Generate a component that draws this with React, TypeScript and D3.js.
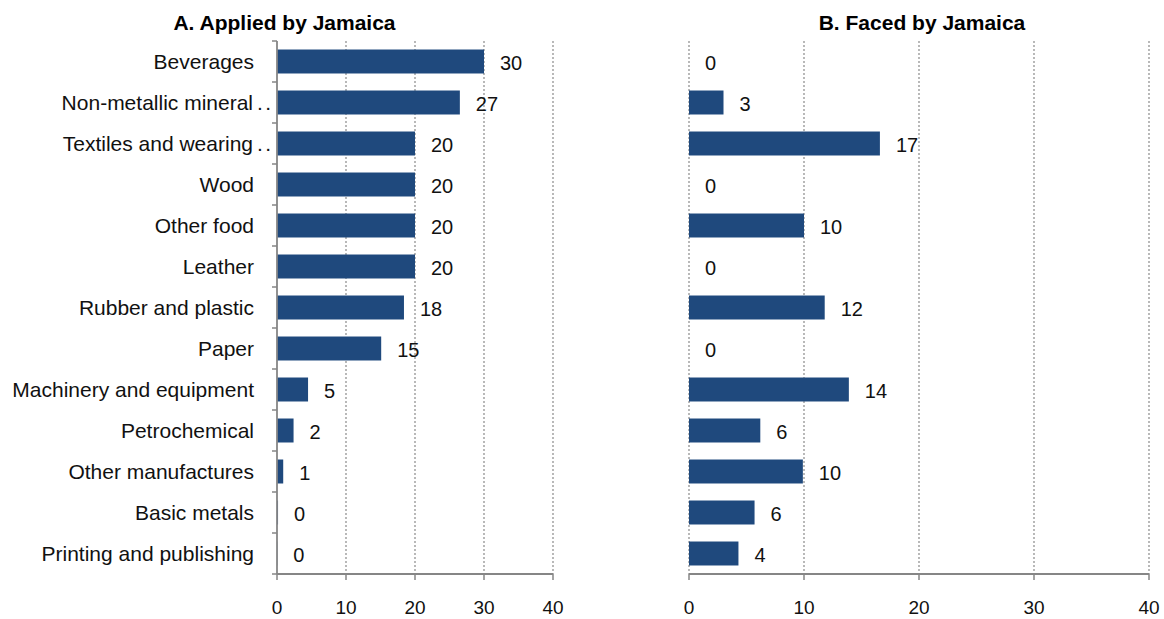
import React from "react";
import * as d3 from "d3";

const categories = [
  "Beverages",
  "Non-metallic mineral..",
  "Textiles and wearing..",
  "Wood",
  "Other food",
  "Leather",
  "Rubber and plastic",
  "Paper",
  "Machinery and equipment",
  "Petrochemical",
  "Other manufactures",
  "Basic metals",
  "Printing and publishing",
];

const appliedValues = [30.0, 26.5, 20.0, 20.0, 20.0, 20.0, 18.4, 15.1, 4.5, 2.4, 0.9, 0.15, 0.05];
const facedValues = [0, 3.0, 16.6, 0, 10.0, 0, 11.8, 0, 13.9, 6.2, 9.9, 5.7, 4.3];
const xTicks = [0, 10, 20, 30, 40];
const titleA = "A. Applied by Jamaica";
const titleB = "B. Faced by Jamaica";

const FONT = "'Liberation Sans', Arial, Helvetica, sans-serif";
const BAR = "#1f497d";
const AXIS = "#868686";
const GRID = "#8a8a8a";

export default function App() {
  const W = 1164;
  const H = 619;
  const top = 41;
  const bottom = 574;

  const y = d3
    .scaleBand<string>()
    .domain(categories)
    .range([top, bottom])
    .paddingInner(0.415)
    .paddingOuter(0.2075);

  const xL = d3.scaleLinear().domain([0, 40]).range([277, 553]);
  const xR = d3.scaleLinear().domain([0, 40]).range([689, 1149]);
  const step = y.step();

  const panel = (
    x: d3.ScaleLinear<number, number>,
    values: number[],
    solidYAxis: boolean,
    key: string
  ) => (
    <g key={key}>
      {xTicks
        .filter((t) => (solidYAxis ? t !== 0 : true))
        .map((t) => (
          <line
            key={"g" + t}
            x1={x(t)}
            x2={x(t)}
            y1={top}
            y2={bottom}
            stroke={GRID}
            strokeWidth={1.2}
            strokeDasharray="2,2"
          />
        ))}
      {values.map((v, i) => (
        <rect
          key={"b" + i}
          x={x(0)}
          y={y(categories[i])!}
          width={Math.max(0, x(v) - x(0))}
          height={y.bandwidth()}
          fill={BAR}
        />
      ))}
      {values.map((v, i) => (
        <text
          key={"v" + i}
          x={x(v) + 16}
          y={y(categories[i])! + y.bandwidth() / 2 + 1}
          dy="0.35em"
          fontSize={20}
          fontFamily={FONT}
          fill="#111"
        >
          {Math.round(v)}
        </text>
      ))}
      {/* bottom axis */}
      <line x1={x(0)} x2={x(40)} y1={bottom} y2={bottom} stroke={AXIS} strokeWidth={1.8} />
      {xTicks.map((t) => (
        <g key={"t" + t}>
          <line x1={x(t)} x2={x(t)} y1={bottom} y2={bottom + 6} stroke={AXIS} strokeWidth={1.5} />
          <text
            x={x(t)}
            y={614}
            textAnchor="middle"
            fontSize={19}
            fontFamily={FONT}
            fill="#111"
          >
            {t}
          </text>
        </g>
      ))}
      {solidYAxis && (
        <g>
          <line x1={x(0)} x2={x(0)} y1={top} y2={bottom} stroke={AXIS} strokeWidth={1.8} />
          {d3.range(categories.length + 1).map((k) => (
            <line
              key={"yt" + k}
              x1={x(0) - 5}
              x2={x(0)}
              y1={top + k * step}
              y2={top + k * step}
              stroke={AXIS}
              strokeWidth={1.5}
            />
          ))}
        </g>
      )}
    </g>
  );

  return (
    <svg
      width={W}
      height={H}
      style={{ position: "absolute", left: 0, top: 0, background: "#fff" }}
    >
      <rect width={W} height={H} fill="#fff" />
      <text x={284.5} y={30} textAnchor="middle" fontSize={21} fontWeight="bold" fontFamily={FONT} fill="#000">
        {titleA}
      </text>
      <text x={922} y={30} textAnchor="middle" fontSize={21} fontWeight="bold" fontFamily={FONT} fill="#000">
        {titleB}
      </text>
      {categories.map((c) => {
        const truncated = c.endsWith("..");
        const base = truncated ? c.slice(0, -2) : c;
        const cy = y(c)! + y.bandwidth() / 2;
        return (
          <g key={c}>
            <text
              x={truncated ? 253 : 254}
              y={cy}
              dy="0.35em"
              textAnchor="end"
              fontSize={21}
              fontFamily={FONT}
              fill="#111"
            >
              {base}
            </text>
            {truncated && (
              <text
                x={257}
                y={cy}
                dy="0.35em"
                fontSize={21}
                fontFamily={FONT}
                letterSpacing={2.5}
                fill="#111"
              >
                ..
              </text>
            )}
          </g>
        );
      })}
      {panel(xL, appliedValues, true, "L")}
      {panel(xR, facedValues, false, "R")}
    </svg>
  );
}
